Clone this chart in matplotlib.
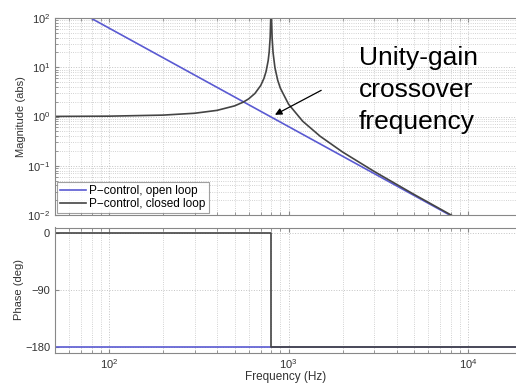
import matplotlib
matplotlib.use("Agg")
import matplotlib.pyplot as plt
from matplotlib.ticker import LogLocator, NullFormatter, FixedLocator

# Open-loop magnitude: straight -40 dB/dec line (endpoints)
ol_freq = [79.0, 7900.0]
ol_mag = [100.0, 0.01]

# Closed-loop magnitude
cl_freq = [50, 100, 200, 300, 400, 500, 560, 600, 650, 700, 730, 750, 770, 780,
           790, 796, 800, 804, 810, 820, 840, 870, 900, 1000, 1200, 1500, 2000,
           3000, 5000, 8000, 20000]
cl_mag = [1.004, 1.016, 1.067, 1.164, 1.333, 1.641, 1.961, 2.286, 2.943, 4.267,
          5.98, 8.26, 13.6, 20.3, 40.3, 100.5, 1000.0, 99.5, 39.7, 19.8, 9.76,
          5.47, 3.77, 1.78, 0.8, 0.397, 0.19, 0.0766, 0.0262, 0.0101, 0.0016]

# Phase responses
ol_phase_freq = [50, 20000]
ol_phase = [-180, -180]
cl_phase_freq = [50, 800, 800, 20000]
cl_phase = [0, 0, -180, -180]

labels = ["P\u2212control, open loop", "P\u2212control, closed loop"]
annot_text = "Unity-gain\ncrossover\nfrequency"

blue = "#5a5ad2"
dark = "#444444"
tick_col = "#333333"
grid_col = "#c4c4c4"

plt.rcParams["font.family"] = ["Liberation Sans", "DejaVu Sans"]

fig = plt.figure(figsize=(5.16, 3.83), dpi=100)
ax1 = fig.add_axes([55 / 516, 1 - 215 / 383, 1 - 55 / 516, 197 / 383])
ax2 = fig.add_axes([55 / 516, 1 - 352.5 / 383, 1 - 55 / 516, 125 / 383])

xlim = (50, 1.85e4)


def style(ax):
    ax.set_xscale("log")
    ax.set_xlim(*xlim)
    ax.xaxis.set_major_locator(LogLocator(base=10))
    ax.xaxis.set_minor_locator(LogLocator(base=10, subs=range(2, 10)))
    ax.xaxis.set_minor_formatter(NullFormatter())
    ax.tick_params(which="both", direction="in", colors="#888888",
                   labelcolor=tick_col, labelsize=8, top=True, right=False)
    ax.tick_params(which="major", length=3)
    ax.tick_params(which="minor", length=2)
    ax.grid(True, which="major", color=grid_col, linestyle=":", linewidth=0.7)
    ax.grid(True, which="minor", color=grid_col, linestyle=":", linewidth=0.6)
    for s in ax.spines.values():
        s.set_color("#888888")
        s.set_linewidth(0.8)
    ax.spines["right"].set_visible(False)


# Magnitude
style(ax1)
ax1.set_yscale("log")
ax1.set_ylim(1e-2, 1e2)
ax1.yaxis.set_major_locator(LogLocator(base=10))
ax1.yaxis.set_minor_locator(LogLocator(base=10, subs=range(2, 10)))
ax1.yaxis.set_minor_formatter(NullFormatter())
ax1.plot(ol_freq, ol_mag, color=blue, lw=1.2, label=labels[0])
ax1.plot(cl_freq, cl_mag, color=dark, lw=1.2, label=labels[1])
ax1.set_xticklabels([])
ax1.set_ylabel("Magnitude (abs)", fontsize=8, color=tick_col, labelpad=1)
leg = ax1.legend(loc="lower left", fontsize=8.5, frameon=True, fancybox=False,
                 handlelength=2.2, handletextpad=0.2, borderpad=0.3,
                 labelspacing=0.05, borderaxespad=0.15)
leg.get_frame().set_edgecolor("#888888")
leg.get_frame().set_linewidth(0.8)

ax1.annotate("", xy=(814, 1.02), xytext=(1569, 3.61),
             arrowprops=dict(arrowstyle="-|>", color="black", lw=0.9,
                             mutation_scale=10))
fig.text(359 / 516, 1 - 46.5 / 383, annot_text, fontsize=19, va="top",
         ha="left", linespacing=1.4, color="black")

# Phase
style(ax2)
ax2.set_ylim(-189, 9)
ax2.yaxis.set_major_locator(FixedLocator([-180, -90, 0]))
ax2.plot(ol_phase_freq, ol_phase, color=blue, lw=1.2)
ax2.plot(cl_phase_freq, cl_phase, color=dark, lw=1.2)
ax2.set_ylabel("Phase (deg)", fontsize=8, color=tick_col, labelpad=1)
ax2.set_xlabel("Frequency (Hz)", fontsize=8.5, color=tick_col, labelpad=0)

fig.savefig("out.png", dpi=100)
